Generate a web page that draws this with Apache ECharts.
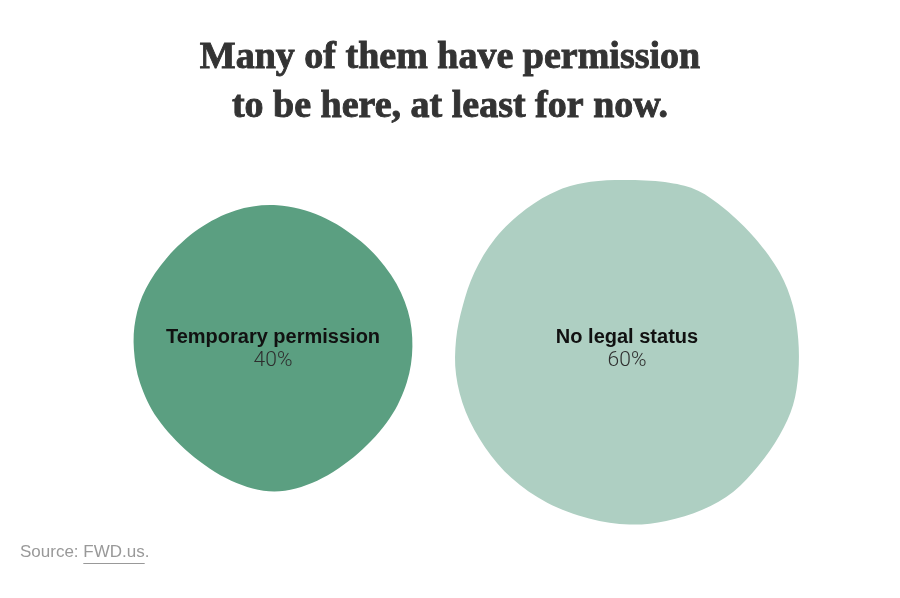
<!DOCTYPE html>
<html>
<head>
<meta charset="utf-8">
<script src="https://cdn.jsdelivr.net/npm/echarts@6/dist/echarts.min.js"></script>
<style>
html,body{margin:0;padding:0;background:#fff;}
#chart{width:900px;height:598px;}
</style>
</head>
<body>
<div id="chart"></div>
<script>
// ---- data ----
const categories = ['Temporary permission', 'No legal status'];
const shares = [40, 60];            // percent
const titleLines = ['Many of them have permission', 'to be here, at least for now.'];
const sourceText = 'Source: ';
const sourceLink = 'FWD.us';

// ---- styles (blob outlines are normalised 0..100 inside each blob's own box) ----
const colors = ['#5b9f81', '#aecfc2'];
const outlines = [
  [[50.8,0],[67.5,3.5],[83.0,14.0],[93.8,25.6],[99.8,37.2],[100,48.8],[98.6,60.3],[93.8,72.1],[83.0,83.7],[63.9,95.3],[50.2,100],[37.6,95.3],[17.3,83.7],[6.6,72.1],[1.8,60.3],[0,48.8],[1.1,39.4],[3.0,31.4],[10.2,19.8],[24.5,8.1],[35.3,3.5]],
  [[50.9,0],[64.0,0.6],[70.7,2.5],[77.5,7.3],[88.2,17.0],[95.0,26.7],[98.8,36.4],[99.9,46.0],[100,55.7],[98.8,65.4],[95.0,73.1],[88.2,82.8],[81.4,90.5],[72.7,95.4],[61.0,98.7],[51.4,100],[39.7,98.3],[26.2,93.4],[16.5,86.7],[8.7,77.0],[2.9,67.3],[0,55.7],[0.5,46.0],[2.4,36.4],[5.8,26.7],[10.7,17.0],[21.3,7.3],[30.9,2.5],[38.5,0.1]]
];
const smoothPasses = [2, 1];
const aspect = [[0.993, 1.02], [1.0, 1.002]];
const shapeShift = [-0.7, 3.3];   // vertical nudge of each blob's box (px)
const sizeScale = 44.4;           // px per sqrt(percent)

function smooth(pts, passes) {
  let p = pts;
  for (let k = 0; k < passes; k++) {
    const n = p.length;
    p = p.map((q, i) => {
      const a = p[(i - 1 + n) % n], b = p[(i + 1) % n];
      return [0.25 * a[0] + 0.5 * q[0] + 0.25 * b[0], 0.25 * a[1] + 0.5 * q[1] + 0.25 * b[1]];
    });
  }
  return p;
}

function blobPath(pts) {
  const n = pts.length;
  const f = v => v.toFixed(2);
  let d = 'M' + f(pts[0][0]) + ' ' + f(pts[0][1]);
  for (let i = 0; i < n; i++) {
    const p0 = pts[(i - 1 + n) % n], p1 = pts[i], p2 = pts[(i + 1) % n], p3 = pts[(i + 2) % n];
    const c1 = [p1[0] + (p2[0] - p0[0]) / 6, p1[1] + (p2[1] - p0[1]) / 6];
    const c2 = [p2[0] - (p3[0] - p1[0]) / 6, p2[1] - (p3[1] - p1[1]) / 6];
    d += ' C' + f(c1[0]) + ' ' + f(c1[1]) + ' ' + f(c2[0]) + ' ' + f(c2[1]) + ' ' + f(p2[0]) + ' ' + f(p2[1]);
  }
  return 'path://' + d + ' Z';
}

const chart = echarts.init(document.getElementById('chart'), null, {renderer: 'canvas'});

const seriesData = categories.map((c, i) => ({
  name: c,
  value: [c, 'all', shares[i]],
  symbol: blobPath(smooth(outlines[i], smoothPasses[i])),
  symbolSize: [sizeScale * Math.sqrt(shares[i]) * aspect[i][0], sizeScale * Math.sqrt(shares[i]) * aspect[i][1]],
  symbolOffset: [0, shapeShift[i]],
  itemStyle: {color: colors[i], opacity: 1},
  label: {offset: [0, -shapeShift[i]]}
}));

// measure source text for the underline
const mctx = document.createElement('canvas').getContext('2d');
mctx.font = '17px "Liberation Sans"';
const srcLeft = 20;
const linkStart = srcLeft + mctx.measureText(sourceText).width;
const linkWidth = mctx.measureText(sourceLink).width;

chart.setOption({
  backgroundColor: '#ffffff',
  animation: false,
  title: {
    text: titleLines.join('\n'),
    left: 'center',
    top: 29,
    textStyle: {
      fontFamily: 'Liberation Serif',
      fontWeight: 'bold',
      fontSize: 38,
      lineHeight: 49,
      color: '#333333',
      textBorderColor: '#333333',
      textBorderWidth: 0.9
    }
  },
  grid: {left: 96, right: 96, top: 150, bottom: 50},
  xAxis: {type: 'category', data: categories, show: false},
  yAxis: {type: 'category', data: ['all'], show: false},
  series: [{
    type: 'scatter',
    silent: true,
    symbolKeepAspect: false,
    data: seriesData,
    label: {
      show: true,
      position: 'inside',
      formatter: p => '{n|' + p.name + '}\n{v|' + p.value[2] + '%}',
      rich: {
        n: {fontFamily: 'Liberation Sans', fontWeight: 'bold', fontSize: 20, lineHeight: 23, color: '#111111', align: 'center'},
        v: {fontFamily: 'Roboto', fontWeight: 300, fontSize: 21, lineHeight: 23, color: '#2e2e2e', align: 'center'}
      }
    },
    emphasis: {disabled: true}
  }],
  graphic: [
    {
      type: 'text', left: srcLeft, top: 544,
      style: {
        text: '{a|' + sourceText + '}{a|' + sourceLink + '}{a|.}',
        rich: {
          a: {fontFamily: 'Liberation Sans', fontSize: 17, fill: '#999999'}
        }
      }
    },
    {
      type: 'rect', left: linkStart, top: 563,
      shape: {width: linkWidth, height: 1},
      style: {fill: '#999999'}
    }
  ]
});
</script>
</body>
</html>
